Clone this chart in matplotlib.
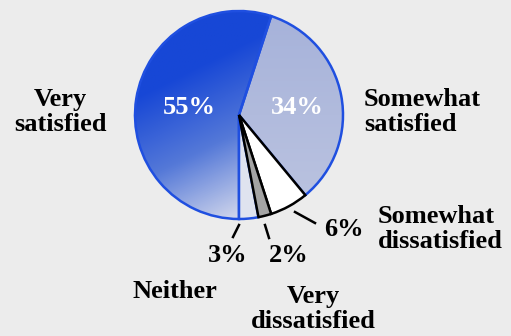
import numpy as np
import matplotlib.pyplot as plt
from matplotlib.colors import LinearSegmentedColormap

# survey shares, clockwise from the bottom
labels = ["Very\nsatisfied", "Somewhat\nsatisfied", "Somewhat\ndissatisfied",
          "Very\ndissatisfied", "Neither"]
values = [55, 34, 6, 2, 3]
pct_text = ["55%", "34%", "6%", "2%", "3%"]

W, H = 511, 336
CX, CY, R = 239, 115, 104  # pie centre / radius in pixels


def px(x, y):
    # pixel position -> data coords (pie radius = 1)
    return (x - CX) / R, (CY - y) / R


fig = plt.figure(figsize=(W / 100, H / 100), dpi=100)
fig.patch.set_facecolor("#ececec")
ax = fig.add_axes([0, 0, 1, 1])
ax.set_facecolor("#ececec")

blue = "#1f4fe0"
wedges, _ = ax.pie(values, startangle=270, counterclock=False, radius=1,
                   colors=["none", "none", "white", "#a4a4a4", "#dfe3ef"],
                   wedgeprops=dict(linewidth=1.8, edgecolor=blue, zorder=2))
# the two small "dissatisfied" wedges are outlined in black
for w in wedges[2:4]:
    w.set_edgecolor("black")
    w.set_zorder(3)

# gradient fills for the two big wedges
yy, xx = np.mgrid[1:-1:200j, -1:1:200j]
g55 = np.clip((xx * 0.5 - yy) * 0.6 + 0.4, 0, 1)
cm55 = LinearSegmentedColormap.from_list("g55", ["#1747d6", "#5579d8", "#d3d8ec"])
im = ax.imshow(g55, cmap=cm55, vmin=0, vmax=1, extent=[-1, 1, -1, 1], zorder=1.5)
im.set_clip_path(wedges[0])
g34 = np.clip(-yy * 0.5 + 0.5, 0, 1)
cm34 = LinearSegmentedColormap.from_list("g34", ["#a6b2da", "#bcc4e0"])
im2 = ax.imshow(g34, cmap=cm34, vmin=0, vmax=1, extent=[-1, 1, -1, 1], zorder=1.5)
im2.set_clip_path(wedges[1])

ax.set_xlim(px(0, 0)[0], px(W, 0)[0])
ax.set_ylim(px(0, H)[1], px(0, 0)[1])
ax.set_aspect("equal")
ax.axis("off")

font = dict(family="Liberation Serif", weight="bold", fontsize=19,
            linespacing=1.1)

ax.text(*px(60, 112), labels[0], ha="center", va="center", **font)
ax.text(*px(364, 112), labels[1], ha="left", va="center", **font)
ax.text(*px(378, 229), labels[2], ha="left", va="center", **font)
ax.text(*px(313, 309), labels[3], ha="center", va="center", **font)
ax.text(*px(175, 292), labels[4], ha="center", va="center", **font)

ax.text(*px(189, 108), pct_text[0], ha="center", va="center", color="white", zorder=5, **font)
ax.text(*px(297, 108), pct_text[1], ha="center", va="center", color="white", zorder=5, **font)
ax.text(*px(344, 229), pct_text[2], ha="center", va="center", **font)
ax.text(*px(289, 255), pct_text[3], ha="center", va="center", **font)
ax.text(*px(228, 255), pct_text[4], ha="center", va="center", **font)

# leader lines
for (x0, y0), (x1, y1) in [((295, 212), (315, 223)),
                           ((265, 225), (269, 238)),
                           ((239, 225), (233, 237))]:
    a, b = px(x0, y0), px(x1, y1)
    ax.plot([a[0], b[0]], [a[1], b[1]], color="black", lw=1.8)

fig.savefig("out.png", dpi=100, facecolor=fig.get_facecolor())
